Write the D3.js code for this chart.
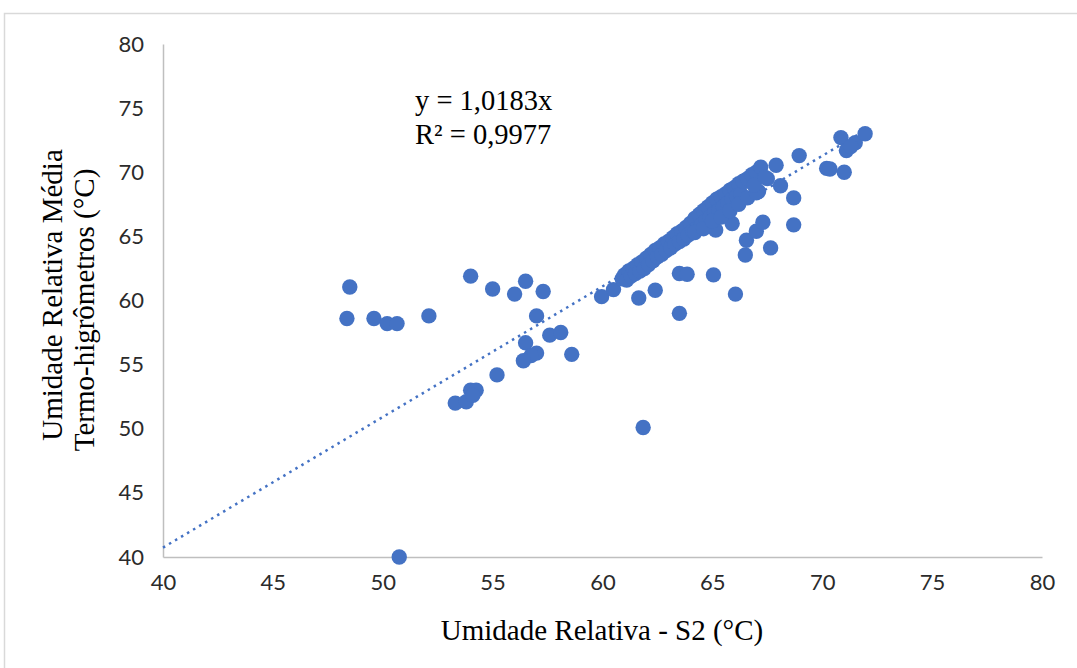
<!DOCTYPE html>
<html>
<head>
<meta charset="utf-8">
<script src="https://cdn.jsdelivr.net/npm/d3@7"></script>
<style>
  html, body { margin: 0; padding: 0; background: #fff; }
  svg { display: block; }
</style>
</head>
<body>
<svg id="chart" width="1077" height="668"></svg>
<script>
// ---- data ----
const xTicks = [40, 45, 50, 55, 60, 65, 70, 75, 80];
const yTicks = [40, 45, 50, 55, 60, 65, 70, 75, 80];
const xTitle = "Umidade Relativa - S2 (°C)";
const yTitle1 = "Umidade Relativa Média";
const yTitle2 = "Termo-higrômetros (°C)";
const eqLine1 = "y = 1,0183x";
const eqLine2 = "R² = 0,9977";
const slope = 1.0183;

// S2 readings (x) and mean thermo-hygrometer readings (y)
const s2 = [
  48.5, 48.37, 49.6, 50.2, 50.65, 52.1, 54.0, 55.0, 56.0, 56.5, 57.3, 57.0, 57.6, 58.1,
  56.5, 57.0, 56.75, 56.4, 58.6, 55.2, 53.3, 53.8, 54.0, 54.25, 54.1, 61.85, 50.75,
  59.96, 60.5, 61.65, 62.4, 63.5, 63.5, 63.85, 65.05, 66.05, 66.5, 66.55, 67.0, 67.3,
  67.65, 68.7, 68.7, 68.1, 67.9, 67.1, 68.95, 70.2, 70.35, 71.0, 70.85, 71.1, 71.5,
  71.95, 71.3, 65.9, 65.15, 67.1, 66.5, 67.5, 63.98,
  60.9, 61.0, 61.1, 61.2, 61.3, 61.4, 61.5, 61.6, 61.7, 61.8, 61.9, 62.0, 62.1, 62.2,
  62.3, 62.4, 62.5, 62.6, 62.7, 62.8, 62.9, 63.0, 63.1, 63.2, 63.3, 63.4, 63.5, 63.6,
  63.7, 63.8, 63.9, 64.0, 64.1, 64.2, 64.3, 64.4, 64.5, 64.6, 64.7, 64.8, 64.9, 65.0,
  65.1, 65.2, 65.3, 65.4, 65.5, 65.6, 65.7, 65.8, 65.9, 66.0, 66.1, 66.2, 66.3, 66.4,
  66.6, 66.8, 67.0, 67.2, 64.2, 64.6, 65.0, 65.4, 65.8, 66.2, 66.6, 67.0, 66.9, 67.4
];
const termo = [
  61.05, 58.6, 58.6, 58.2, 58.2, 58.8, 61.9, 60.9, 60.5, 61.5, 60.7, 58.8, 57.3, 57.5,
  56.7, 55.9, 55.7, 55.3, 55.8, 54.2, 52.0, 52.1, 53.0, 53.0, 52.6, 50.1, 40.0,
  60.3, 60.85, 60.2, 60.8, 59.0, 62.1, 62.05, 62.0, 60.5, 63.55, 64.7, 65.4, 66.1,
  64.1, 65.9, 68.0, 68.95, 70.55, 70.0, 71.3, 70.3, 70.25, 70.0, 72.7, 71.7, 72.3,
  73.0, 72.0, 66.0, 65.5, 68.5, 69.3, 69.5, 65.5,
  61.7, 62.0, 61.6, 62.3, 61.9, 62.5, 62.1, 62.8, 62.3, 63.0, 62.5, 63.3, 62.8, 63.6,
  63.1, 63.9, 63.4, 64.1, 63.6, 64.4, 63.9, 64.6, 64.1, 64.9, 64.4, 65.2, 64.6, 65.4,
  64.8, 65.7, 65.1, 66.0, 65.4, 66.4, 65.6, 66.7, 65.9, 67.0, 66.2, 67.3, 66.5, 67.6,
  66.8, 67.9, 67.0, 68.1, 67.3, 68.3, 67.6, 68.6, 67.9, 68.8, 68.1, 69.1, 68.3, 69.3,
  69.5, 69.8, 70.0, 70.4, 65.3, 65.6, 66.2, 66.5, 67.0, 67.5, 68.0, 68.4, 69.0, 69.6
];

// ---- chart ----
const svg = d3.select("#chart");
const W = 1077, H = 668;
const mLeft = 163, mRight = 1042, mTop = 44, mBottom = 557;

svg.append("rect").attr("x", 0).attr("y", 0).attr("width", W).attr("height", H).attr("fill", "#fff");
svg.append("rect").attr("x", 4.5).attr("y", 13.5).attr("width", 1200).attr("height", 800)
  .attr("fill", "none").attr("stroke", "#d9d9d9").attr("stroke-width", 1.5);

const x = d3.scaleLinear().domain([40, 80]).range([mLeft, mRight]);
const y = d3.scaleLinear().domain([40, 80]).range([mBottom, mTop]);

const tickFont = "Lato, 'Open Sans', sans-serif";
const serif = "'Liberation Serif', 'Times New Roman', serif";

const xAxis = svg.append("g").attr("transform", `translate(0,${mBottom})`)
  .call(d3.axisBottom(x).tickValues(xTicks).tickSize(0).tickPadding(17).tickFormat(d3.format("d")));
const yAxis = svg.append("g").attr("transform", `translate(${mLeft},0)`)
  .call(d3.axisLeft(y).tickValues(yTicks).tickSize(0).tickPadding(19).tickFormat(d3.format("d")));

[xAxis, yAxis].forEach(g => {
  g.select(".domain").attr("stroke", "#bfbfbf").attr("stroke-width", 1.5);
  g.selectAll("text").attr("font-family", tickFont).attr("font-size", 22).attr("fill", "#2b2b2b");
});

// trendline
const data = s2.map((d, i) => ({ x: d, y: termo[i] }));
const xMax = d3.max(s2);
svg.append("line")
  .attr("x1", x(40)).attr("y1", y(40 * slope))
  .attr("x2", x(xMax)).attr("y2", y(xMax * slope))
  .attr("stroke", "#4472c4").attr("stroke-width", 2.5)
  .attr("stroke-dasharray", "2.5,4.5");

// points
svg.append("g").selectAll("circle").data(data).join("circle")
  .attr("cx", d => x(d.x)).attr("cy", d => y(d.y)).attr("r", 7.7)
  .attr("fill", "#4472c4");

// equation
svg.append("text").attr("x", 415).attr("y", 110).attr("font-family", serif).attr("font-size", 28.5)
  .attr("fill", "#000").text(eqLine1);
svg.append("text").attr("x", 415).attr("y", 144).attr("font-family", serif).attr("font-size", 28.5)
  .attr("fill", "#000").text(eqLine2);

// axis titles
svg.append("text").attr("x", 602).attr("y", 640).attr("text-anchor", "middle")
  .attr("font-family", serif).attr("font-size", 29).attr("fill", "#000").text(xTitle);
svg.append("text").attr("transform", "translate(62,295) rotate(-90)").attr("text-anchor", "middle")
  .attr("font-family", serif).attr("font-size", 29).attr("fill", "#000").text(yTitle1);
svg.append("text").attr("transform", "translate(94,310) rotate(-90)").attr("text-anchor", "middle")
  .attr("font-family", serif).attr("font-size", 29).attr("fill", "#000").text(yTitle2);
</script>
</body>
</html>
